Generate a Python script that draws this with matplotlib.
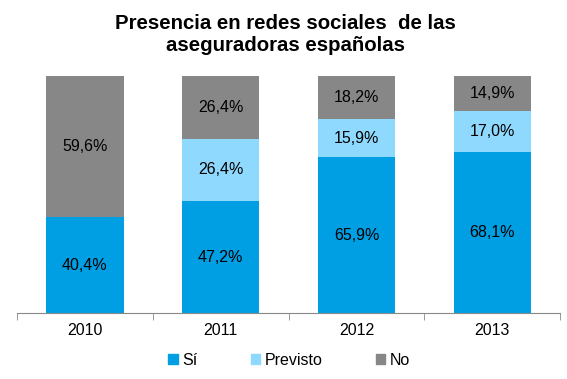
import matplotlib.pyplot as plt
import numpy as np
from matplotlib.patches import Patch

plt.rcParams['font.family'] = ['Liberation Sans', 'DejaVu Sans']

years = ['2010', '2011', '2012', '2013']
si = [40.4, 47.2, 65.9, 68.1]
previsto = [0.0, 26.4, 15.9, 17.0]
no = [59.6, 26.4, 18.2, 14.9]

c_si = '#009fe3'
c_prev = '#8fd9ff'
c_no = '#878787'

fig = plt.figure(figsize=(5.67, 3.79), dpi=100)
ax = fig.add_axes([0.030, 0.174, 0.958, 0.625])

x = np.arange(len(years))
w = 0.57
ax.bar(x, si, w, color=c_si)
ax.bar(x, previsto, w, bottom=si, color=c_prev)
bottom2 = np.array(si) + np.array(previsto)
ax.bar(x, no, w, bottom=bottom2, color=c_no)

def fmt(v):
    return f'{v:.1f}%'.replace('.', ',')

for i in range(len(years)):
    ax.text(x[i], si[i] / 2, fmt(si[i]), ha='center', va='center', fontsize=11.5)
    if previsto[i] > 0:
        ax.text(x[i], si[i] + previsto[i] / 2, fmt(previsto[i]), ha='center', va='center', fontsize=11.5)
    ax.text(x[i], bottom2[i] + no[i] / 2, fmt(no[i]), ha='center', va='center', fontsize=11.5)

ax.set_xlim(-0.5, len(years) - 0.5)
ax.set_ylim(0, 100)
ax.set_yticks([])
for s in ['top', 'right', 'left']:
    ax.spines[s].set_visible(False)
ax.spines['bottom'].set_color('#888888')
ax.set_xticks(x)
ax.set_xticklabels(years, fontsize=11.5)
ax.tick_params(axis='x', length=0, pad=7)
# category separators
ax.set_xticks(np.arange(-0.5, len(years)), minor=True)
ax.tick_params(axis='x', which='minor', length=5, color='#888888', direction='out')

fig.text(0.503, 0.908, 'Presencia en redes sociales  de las\naseguradoras españolas',
         ha='center', va='center', fontsize=14.7, fontweight='bold', linespacing=1.2)

handles = [Patch(color=c_si, label='Sí'), Patch(color=c_prev, label='Previsto'),
           Patch(color=c_no, label='No')]
fig.legend(handles=handles, loc='center', bbox_to_anchor=(0.51, 0.05), ncol=3,
           frameon=False, fontsize=11.5, handlelength=0.6, handleheight=0.6,
           handletextpad=0.3, columnspacing=3.3)

fig.savefig('out.png', dpi=100)
